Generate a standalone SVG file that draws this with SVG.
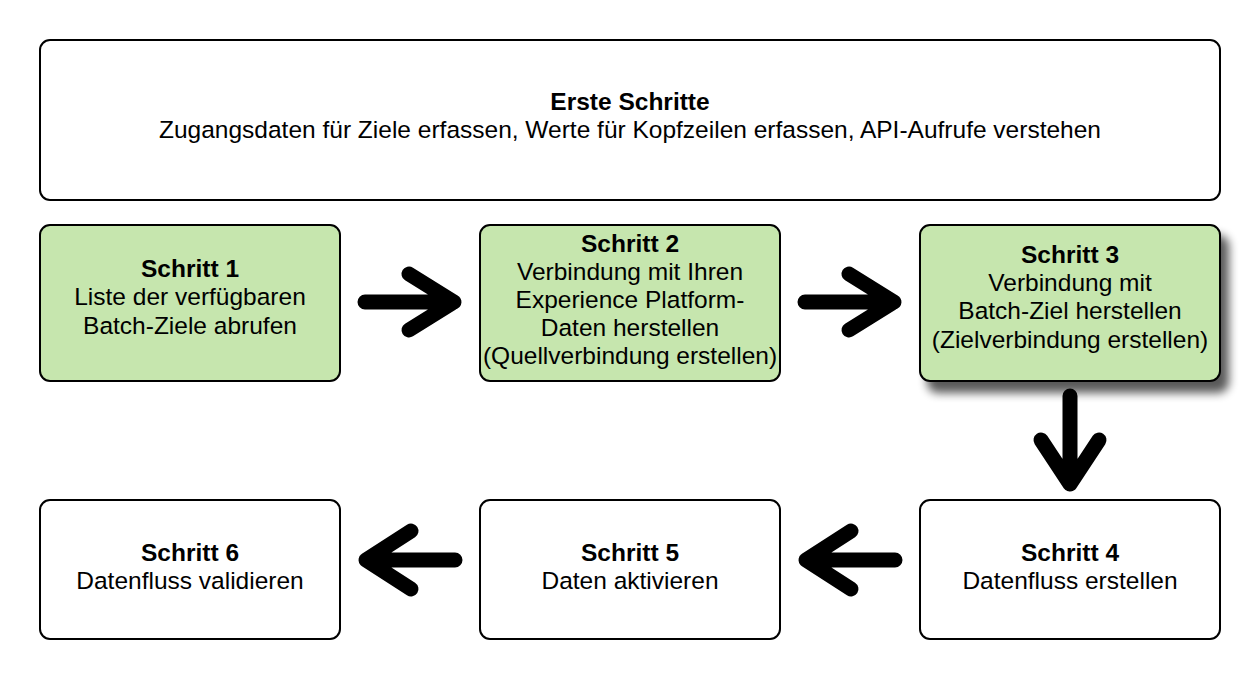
<svg xmlns="http://www.w3.org/2000/svg" width="1258" height="680" viewBox="0 0 1258 680">
<style>
.box{stroke:#000;stroke-width:2;fill:#fff}
.green{fill:#c6e6ae}
text{font-family:"Liberation Sans",Arial,sans-serif;font-size:24.5px;fill:#000;text-anchor:middle}
.b{font-weight:bold}
.arr{fill:none;stroke:#000;stroke-width:15;stroke-linecap:round;stroke-linejoin:round}
</style>
<defs>
<filter id="sh" x="-10%" y="-10%" width="130%" height="150%">
<feGaussianBlur in="SourceAlpha" stdDeviation="5"/>
<feOffset dx="8" dy="11" result="o"/>
<feComponentTransfer><feFuncA type="linear" slope="0.65"/></feComponentTransfer>
<feMerge><feMergeNode/><feMergeNode in="SourceGraphic"/></feMerge>
</filter>
</defs>
<rect width="1258" height="680" fill="#fff"/>
<g id="start">
<rect class="box" x="40" y="40" width="1180" height="160" rx="10"/>
<text class="b" x="630" y="110">Erste Schritte</text>
<text x="630" y="138">Zugangsdaten für Ziele erfassen, Werte für Kopfzeilen erfassen, API-Aufrufe verstehen</text>
</g>
<g id="step1">
<rect class="box green" x="40" y="225" width="300" height="156" rx="10"/>
<text class="b" x="190" y="277">Schritt 1</text>
<text x="190" y="305">Liste der verfügbaren</text>
<text x="190" y="334">Batch-Ziele abrufen</text>
</g>
<g id="step2">
<rect class="box green" x="480" y="225" width="300" height="156" rx="10"/>
<text class="b" x="630" y="252">Schritt 2</text>
<text x="630" y="280">Verbindung mit Ihren</text>
<text x="630" y="308">Experience Platform-</text>
<text x="630" y="336">Daten herstellen</text>
<text x="630" y="364">(Quellverbindung erstellen)</text>
</g>
<g id="step3">
<rect class="box green" x="920" y="225" width="300" height="156" rx="10" filter="url(#sh)"/>
<text class="b" x="1070" y="263">Schritt 3</text>
<text x="1070" y="291">Verbindung mit</text>
<text x="1070" y="319">Batch-Ziel herstellen</text>
<text x="1070" y="348">(Zielverbindung erstellen)</text>
</g>
<g id="step4">
<rect class="box" x="920" y="500" width="300" height="139" rx="10"/>
<text class="b" x="1070" y="561">Schritt 4</text>
<text x="1070" y="589">Datenfluss erstellen</text>
</g>
<g id="step5">
<rect class="box" x="480" y="500" width="300" height="139" rx="10"/>
<text class="b" x="630" y="561">Schritt 5</text>
<text x="630" y="589">Daten aktivieren</text>
</g>
<g id="step6">
<rect class="box" x="40" y="500" width="300" height="139" rx="10"/>
<text class="b" x="190" y="561">Schritt 6</text>
<text x="190" y="589">Datenfluss validieren</text>
</g>
<g id="connectors">
<path class="arr" d="M365 302H454M409 274L454 302L409 330"/>
<path class="arr" d="M805 302H894M849 274L894 302L849 330"/>
<path class="arr" d="M1070 396V484M1041 440L1070 484L1099 440"/>
<path class="arr" d="M455 560H366M411 531L366 560L411 589"/>
<path class="arr" d="M895 560H806M851 531L806 560L851 589"/>
</g>
</svg>
